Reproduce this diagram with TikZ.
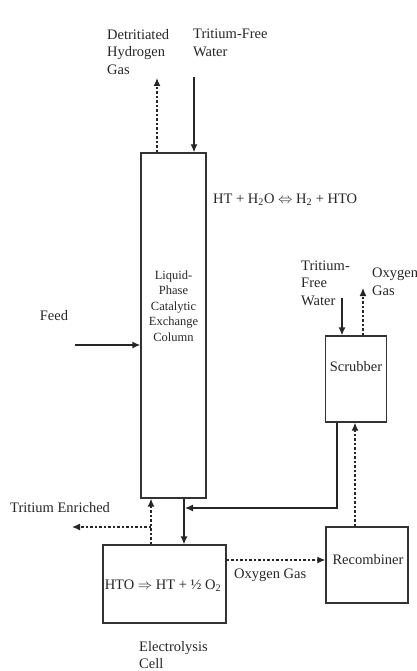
\documentclass[tikz,border=0pt]{standalone}
\usepackage{fontspec}
\setmainfont{Liberation Serif}
\usetikzlibrary{arrows.meta,calc}
\begin{document}
\begin{tikzpicture}[x=1pt,y=-1pt,
 box/.style={draw=black!80,line width=1.3pt,inner sep=0pt},
 lbl/.style={inner sep=0pt,font=\fontsize{14.5}{17.5}\selectfont,text=black!85},
 solidarr/.style={draw=black!85,line width=1.3pt,-{Latex[length=8pt,width=7pt]}},
 dasharr/.style={solidarr,dash pattern=on 2.5pt off 2pt},
]
\useasboundingbox (0,0) rectangle (417,671);
% boxes
\node[box,minimum width=65pt,minimum height=345pt] (col) at (173.5,325.5) {};
\node[lbl,align=center,font=\fontsize{12.5}{15.5}\selectfont] (coltxt) at (173.5,306) {Liquid-\\Phase\\Catalytic\\Exchange\\Column};
\node[box,minimum width=61pt,minimum height=86pt] (scr) at (356,379) {};
\node[lbl] (scrtxt) at (356,367) {Scrubber};
\node[box,minimum width=82pt,minimum height=76pt] (rec) at (367,565) {};
\node[lbl] (rectxt) at (368,560) {Recombiner};
\node[box,minimum width=123pt,minimum height=78pt] (cell) at (164.5,584) {};
\node[lbl] (celltxt) at (163,586) {HTO $\Rightarrow$ HT + ½ O\textsubscript{2}};
% labels
\node[lbl,align=left,anchor=west] (dhg) at (107,52) {Detritiated\\Hydrogen\\Gas};
\node[lbl,align=left,anchor=west] (tfw) at (193,43) {Tritium-Free\\Water};
\node[lbl,anchor=west] (rxn) at (213,200) {HT + H\textsubscript{2}O $\Leftrightarrow$ H\textsubscript{2} + HTO};
\node[lbl] (feed) at (54,316) {Feed};
\node[lbl,align=left,anchor=west] (tfw2) at (301,283) {Tritium-\\Free\\Water};
\node[lbl,align=left,anchor=west] (oxg) at (372,282) {Oxygen\\Gas};
\node[lbl,anchor=west] (ten) at (10,508) {Tritium Enriched};
\node[lbl,anchor=west] (oxg2) at (234,575) {Oxygen Gas};
\node[lbl,align=left,anchor=west] (elc) at (139,655) {Electrolysis\\Cell};
% coordinates
\coordinate (dtend) at (157,78);
\coordinate (tfwstart) at (194,77);
\coordinate (feedstart) at (75,345);
\coordinate (swstart) at (342,298);
\coordinate (ogend) at (363,288);
\coordinate (rx) at (355,0);
\coordinate (sx) at (337,508);
\coordinate (jn) at (185,508);
\coordinate (cx) at (184,0);
\coordinate (ex) at (151,0);
\coordinate (te) at (151,527);
\coordinate (teend) at (72,527);
\coordinate (oy) at (0,560);
% connectors
\draw[dasharr] (dtend |- col.north) -- (dtend);
\draw[solidarr] (tfwstart) -- (tfwstart |- col.north);
\draw[solidarr] (feedstart) -- (feedstart -| col.west);
\draw[solidarr] (swstart) -- (swstart |- scr.north);
\draw[dasharr] (ogend |- scr.north) -- (ogend);
\draw[dasharr] (rx |- rec.north) -- (rx |- scr.south);
\draw[solidarr] (sx |- scr.south) -- (sx) -- (jn);
\draw[solidarr] (cx |- col.south) -- (cx |- cell.north);
\draw[dasharr] (ex |- cell.north) -- (ex |- col.south);
\draw[dasharr] (te) -- (teend);
\draw[dasharr] (cell.east |- oy) -- (rec.west |- oy);
\end{tikzpicture}
\end{document}
